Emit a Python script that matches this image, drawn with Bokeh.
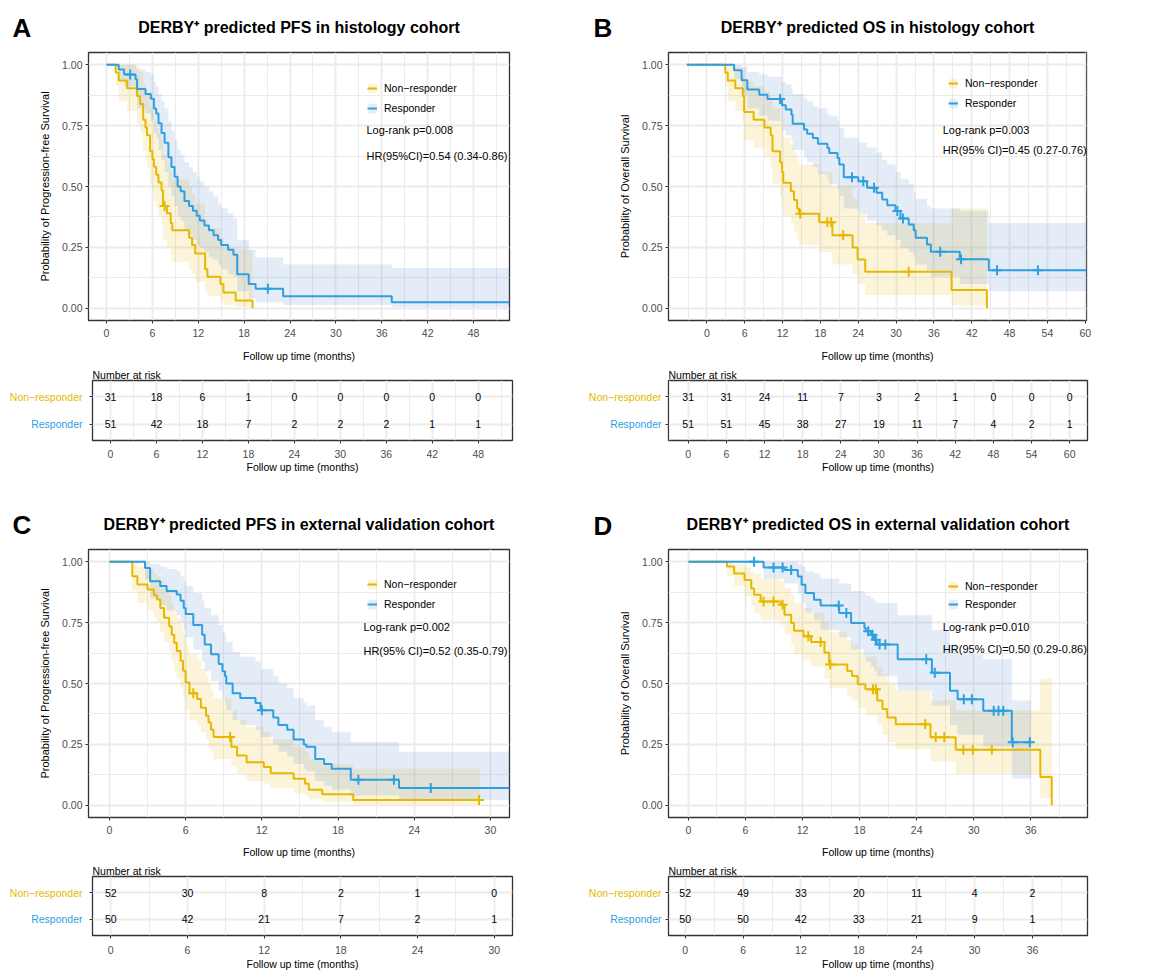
from bokeh.plotting import figure
from bokeh.models import FixedTicker, PrintfTickFormatter, Label, Legend, LegendItem, Range1d
from bokeh.layouts import column, row
from bokeh.embed import file_html
from bokeh.resources import INLINE
from bokeh.core.properties import value

FONT = "Liberation Sans"
YEL = "#E7B800"
BLU = "#2E9FDF"
YEL_BAND = "#E7B800"
BLU_BAND = "#4B80D0"
GRID = "#EBEBEB"
TICKLAB = "#4D4D4D"

# ================= DATA =================
# ---- Panel A : PFS, histology cohort ----
A_nr_time = [0, 1.2, 1.6, 2.7, 4.0, 4.4, 4.8, 5.1, 5.3, 5.7, 6.0, 6.2, 6.5, 6.8, 7.2, 7.4, 7.9, 8.4, 8.6, 10.8, 11.2, 11.6, 12.9, 13.2, 14.9, 15.3, 16.9, 19.1]
A_nr_surv = [1.0, 0.968, 0.935, 0.903, 0.871, 0.839, 0.774, 0.742, 0.710, 0.645, 0.613, 0.581, 0.548, 0.516, 0.484, 0.42, 0.39, 0.35, 0.32, 0.29, 0.26, 0.225, 0.16, 0.13, 0.10, 0.065, 0.032, 0.0]
A_nr_lower = [1.0, 0.91, 0.85, 0.81, 0.76, 0.72, 0.65, 0.61, 0.58, 0.51, 0.47, 0.44, 0.41, 0.38, 0.34, 0.28, 0.25, 0.22, 0.19, 0.16, 0.14, 0.11, 0.07, 0.05, 0.03, 0.015, 0.005, 0.0]
A_nr_upper = [1.0, 1.0, 1.0, 1.0, 0.99, 0.97, 0.92, 0.90, 0.88, 0.83, 0.80, 0.77, 0.74, 0.72, 0.69, 0.63, 0.60, 0.56, 0.53, 0.50, 0.47, 0.43, 0.37, 0.33, 0.29, 0.25, 0.24, 0.24]
A_nr_censor = [7.6]
A_nr_end = 19.1

A_r_time = [0, 1.6, 2.3, 3.8, 4.0, 5.1, 5.8, 6.2, 6.5, 6.8, 7.2, 7.6, 8.1, 8.5, 8.9, 9.3, 9.7, 10.2, 10.8, 11.3, 11.8, 12.2, 12.8, 13.4, 14.0, 14.6, 15.0, 15.9, 16.6, 17.1, 18.6, 19.5, 23.1, 37.3]
A_r_surv = [1.0, 0.98, 0.96, 0.94, 0.90, 0.88, 0.86, 0.82, 0.80, 0.76, 0.72, 0.68, 0.62, 0.58, 0.54, 0.50, 0.48, 0.44, 0.42, 0.40, 0.38, 0.36, 0.34, 0.32, 0.30, 0.28, 0.26, 0.24, 0.22, 0.14, 0.10, 0.08, 0.05, 0.025]
A_r_lower = [1.0, 0.94, 0.91, 0.88, 0.82, 0.80, 0.77, 0.72, 0.70, 0.65, 0.61, 0.56, 0.50, 0.46, 0.42, 0.38, 0.36, 0.32, 0.30, 0.28, 0.26, 0.25, 0.23, 0.21, 0.20, 0.18, 0.16, 0.14, 0.13, 0.07, 0.04, 0.025, 0.014, 0.004]
A_r_upper = [1.0, 1.0, 1.0, 0.99, 0.98, 0.97, 0.96, 0.93, 0.91, 0.88, 0.85, 0.82, 0.77, 0.73, 0.69, 0.65, 0.63, 0.60, 0.58, 0.56, 0.54, 0.52, 0.50, 0.48, 0.46, 0.43, 0.41, 0.39, 0.37, 0.28, 0.24, 0.21, 0.18, 0.165]
A_r_censor = [3.1, 21.1]
A_r_end = 52.7

A_ticks = [0, 6, 12, 18, 24, 30, 36, 42, 48]
A_risk_nr = [31, 18, 6, 1, 0, 0, 0, 0, 0]
A_risk_r = [51, 42, 18, 7, 2, 2, 2, 1, 1]

# ---- Panel B : OS, histology cohort ----
B_nr_time = [-3.2, 2.9, 3.3, 4.5, 5.7, 5.9, 7.4, 9.1, 10.1, 10.4, 11.6, 11.9, 12.1, 13.3, 13.8, 14.3, 14.6, 17.8, 19.9, 23.1, 23.9, 25.1, 38.8, 44.4]
B_nr_surv = [1.0, 0.968, 0.935, 0.903, 0.871, 0.806, 0.774, 0.742, 0.710, 0.645, 0.600, 0.560, 0.515, 0.480, 0.445, 0.41, 0.388, 0.353, 0.300, 0.250, 0.20, 0.150, 0.075, 0.0]
B_nr_lower = [1.0, 0.91, 0.85, 0.81, 0.76, 0.69, 0.66, 0.62, 0.58, 0.51, 0.46, 0.42, 0.38, 0.35, 0.31, 0.28, 0.26, 0.23, 0.18, 0.14, 0.10, 0.055, 0.012, 0.0]
B_nr_upper = [1.0, 1.0, 1.0, 0.99, 0.96, 0.93, 0.91, 0.89, 0.86, 0.82, 0.78, 0.74, 0.70, 0.67, 0.64, 0.61, 0.59, 0.56, 0.50, 0.45, 0.39, 0.35, 0.41, 0.41]
B_nr_censor = [14.8, 19.1, 19.7, 21.6, 32.0]
B_nr_end = 44.4

B_r_time = [-3.2, 4.3, 5.5, 6.4, 8.3, 9.6, 11.9, 12.5, 13.4, 13.6, 15.4, 15.9, 16.8, 17.6, 19.1, 19.4, 20.7, 21.0, 21.7, 24.0, 25.4, 26.9, 27.8, 28.6, 29.9, 30.7, 32.0, 32.8, 33.1, 34.9, 35.5, 40.1, 44.7]
B_r_surv = [1.0, 0.977, 0.936, 0.898, 0.877, 0.859, 0.833, 0.816, 0.795, 0.758, 0.734, 0.717, 0.699, 0.675, 0.658, 0.638, 0.617, 0.590, 0.538, 0.522, 0.495, 0.474, 0.447, 0.423, 0.399, 0.369, 0.344, 0.320, 0.290, 0.262, 0.232, 0.201, 0.156]
B_r_lower = [1.0, 0.94, 0.87, 0.82, 0.79, 0.77, 0.73, 0.71, 0.69, 0.65, 0.62, 0.60, 0.58, 0.55, 0.53, 0.51, 0.49, 0.46, 0.41, 0.39, 0.36, 0.34, 0.32, 0.30, 0.28, 0.25, 0.23, 0.21, 0.18, 0.155, 0.13, 0.10, 0.07]
B_r_upper = [1.0, 1.0, 0.99, 0.97, 0.96, 0.95, 0.93, 0.92, 0.90, 0.88, 0.86, 0.85, 0.83, 0.82, 0.80, 0.79, 0.77, 0.74, 0.70, 0.68, 0.66, 0.64, 0.61, 0.59, 0.56, 0.53, 0.51, 0.48, 0.45, 0.42, 0.41, 0.40, 0.35]
B_r_censor = [11.6, 23.0, 24.8, 26.5, 30.2, 31.1, 37.0, 40.3, 46.0, 52.5]
B_r_end = 60.2

B_ticks = [0, 6, 12, 18, 24, 30, 36, 42, 48, 54, 60]
B_risk_nr = [31, 31, 24, 11, 7, 3, 2, 1, 0, 0, 0]
B_risk_r = [51, 51, 45, 38, 27, 19, 11, 7, 4, 2, 1]

# ---- Panel C : PFS, external validation cohort ----
C_nr_time = [0, 1.8, 2.2, 3.0, 3.5, 3.75, 4.0, 4.3, 4.7, 4.9, 5.1, 5.3, 5.6, 5.8, 6.0, 6.3, 6.9, 7.2, 7.6, 7.8, 8.0, 8.2, 9.6, 10.05, 10.8, 12.15, 12.7, 14.5, 15.4, 15.7, 16.75, 19.2]
C_nr_surv = [1.0, 0.94, 0.906, 0.886, 0.862, 0.845, 0.81, 0.77, 0.735, 0.70, 0.667, 0.633, 0.593, 0.552, 0.504, 0.46, 0.436, 0.40, 0.368, 0.34, 0.31, 0.28, 0.24, 0.204, 0.177, 0.157, 0.132, 0.109, 0.089, 0.064, 0.045, 0.022]
C_nr_lower = [1.0, 0.88, 0.83, 0.80, 0.77, 0.75, 0.71, 0.67, 0.63, 0.59, 0.55, 0.52, 0.48, 0.44, 0.39, 0.35, 0.33, 0.30, 0.27, 0.24, 0.22, 0.19, 0.16, 0.13, 0.10, 0.09, 0.07, 0.05, 0.04, 0.025, 0.015, 0.004]
C_nr_upper = [1.0, 1.0, 0.98, 0.97, 0.95, 0.94, 0.92, 0.89, 0.86, 0.83, 0.80, 0.77, 0.74, 0.70, 0.66, 0.62, 0.60, 0.56, 0.53, 0.50, 0.47, 0.44, 0.39, 0.35, 0.32, 0.30, 0.27, 0.24, 0.22, 0.19, 0.17, 0.15]
C_nr_censor = [6.6, 9.5, 29.1]
C_nr_end = 29.2

C_r_time = [0, 2.8, 3.2, 4.0, 4.5, 5.3, 5.6, 5.85, 6.0, 6.6, 7.3, 7.5, 8.0, 8.6, 8.9, 9.1, 9.2, 9.7, 10.3, 11.5, 11.9, 12.9, 13.3, 14.0, 14.5, 15.3, 15.5, 16.2, 16.9, 17.5, 19.0, 22.8]
C_r_surv = [1.0, 0.974, 0.92, 0.90, 0.88, 0.865, 0.84, 0.81, 0.785, 0.74, 0.70, 0.66, 0.62, 0.58, 0.55, 0.53, 0.50, 0.46, 0.44, 0.42, 0.39, 0.36, 0.33, 0.31, 0.27, 0.25, 0.24, 0.19, 0.17, 0.15, 0.105, 0.071]
C_r_lower = [1.0, 0.93, 0.85, 0.82, 0.80, 0.78, 0.75, 0.72, 0.69, 0.64, 0.59, 0.55, 0.51, 0.47, 0.44, 0.42, 0.39, 0.35, 0.33, 0.31, 0.28, 0.25, 0.22, 0.20, 0.17, 0.15, 0.14, 0.10, 0.08, 0.065, 0.04, 0.022]
C_r_upper = [1.0, 1.0, 0.99, 0.98, 0.97, 0.96, 0.94, 0.92, 0.90, 0.87, 0.84, 0.81, 0.78, 0.74, 0.71, 0.70, 0.67, 0.63, 0.61, 0.59, 0.56, 0.53, 0.50, 0.48, 0.44, 0.42, 0.41, 0.35, 0.32, 0.30, 0.26, 0.22]
C_r_censor = [12.0, 19.6, 22.4, 25.3]
C_r_end = 31.5

C_ticks = [0, 6, 12, 18, 24, 30]
C_risk_nr = [52, 30, 8, 2, 1, 0]
C_risk_r = [50, 42, 21, 7, 2, 1]

# ---- Panel D : OS, external validation cohort ----
D_nr_time = [0, 4.05, 4.8, 5.9, 6.6, 6.9, 7.6, 9.7, 10.1, 10.8, 11.1, 12.1, 12.9, 14.3, 14.8, 16.7, 17.2, 17.8, 18.6, 19.85, 20.4, 20.9, 21.8, 25.45, 28.1, 37.0, 38.2]
D_nr_surv = [1.0, 0.98, 0.952, 0.925, 0.89, 0.864, 0.837, 0.823, 0.782, 0.748, 0.717, 0.694, 0.67, 0.626, 0.578, 0.551, 0.531, 0.497, 0.476, 0.43, 0.395, 0.36, 0.333, 0.279, 0.228, 0.116, 0.0]
D_nr_lower = [1.0, 0.94, 0.90, 0.86, 0.82, 0.79, 0.76, 0.74, 0.70, 0.66, 0.62, 0.60, 0.57, 0.52, 0.48, 0.45, 0.43, 0.40, 0.37, 0.33, 0.29, 0.26, 0.23, 0.18, 0.13, 0.03, 0.0]
D_nr_upper = [1.0, 1.0, 0.99, 0.98, 0.96, 0.95, 0.93, 0.92, 0.89, 0.86, 0.83, 0.81, 0.79, 0.75, 0.71, 0.68, 0.66, 0.63, 0.61, 0.57, 0.54, 0.50, 0.47, 0.43, 0.39, 0.52, 0.52]
D_nr_censor = [7.9, 8.95, 9.9, 12.6, 13.9, 14.9, 19.4, 19.7, 24.9, 26.0, 26.9, 28.9, 29.9, 31.9]
D_nr_end = 38.2

D_r_time = [0, 7.9, 10.1, 11.5, 11.9, 12.3, 13.2, 13.9, 15.85, 17.1, 18.5, 18.65, 19.2, 19.5, 19.8, 22.0, 25.6, 27.5, 28.3, 31.0, 34.0]
D_r_surv = [1.0, 0.976, 0.966, 0.939, 0.905, 0.871, 0.844, 0.82, 0.789, 0.748, 0.728, 0.714, 0.70, 0.68, 0.66, 0.60, 0.544, 0.47, 0.435, 0.388, 0.259]
D_r_lower = [1.0, 0.93, 0.91, 0.87, 0.83, 0.79, 0.76, 0.72, 0.69, 0.64, 0.61, 0.59, 0.57, 0.55, 0.53, 0.47, 0.41, 0.33, 0.29, 0.24, 0.11]
D_r_upper = [1.0, 1.0, 1.0, 0.99, 0.98, 0.96, 0.95, 0.93, 0.91, 0.88, 0.87, 0.86, 0.85, 0.84, 0.83, 0.78, 0.72, 0.66, 0.62, 0.60, 0.43]
D_r_censor = [6.9, 8.95, 9.9, 10.8, 15.8, 16.6, 18.9, 19.35, 19.7, 20.1, 20.7, 25.0, 25.9, 28.95, 29.8, 32.1, 32.6, 33.1, 34.1, 35.9]
D_r_end = 36.0

D_ticks = [0, 6, 12, 18, 24, 30, 36]
D_risk_nr = [52, 49, 33, 20, 11, 4, 2]
D_risk_r = [50, 50, 42, 33, 21, 9, 1]

Y_TICKS = [0, 0.25, 0.5, 0.75, 1.0]
Y_MINOR = [0.125, 0.375, 0.625, 0.875]
GROUPS = ["Non\u2212responder", "Responder"]


# ================= HELPERS =================
def stepify(t, v, end):
    xs, ys = [t[0]], [v[0]]
    for i in range(1, len(t)):
        xs += [t[i], t[i]]
        ys += [v[i - 1], v[i]]
    if end > t[-1]:
        xs.append(end)
        ys.append(v[-1])
    return xs, ys


def surv_at(t, s, c):
    out = s[0]
    for ti, si in zip(t, s):
        if ti <= c:
            out = si
    return out


def minor_of(ticks, lo, hi):
    step = ticks[1] - ticks[0]
    m = []
    x = ticks[0] - step / 2
    while x <= hi:
        if x >= lo:
            m.append(x)
        x += step
    return m


def blank_fig(w, h, yr, top=0, bottom=0, title=None):
    p = figure(width=w, height=h, x_range=Range1d(0, w), y_range=Range1d(*yr),
               x_axis_type=None, y_axis_type=None, output_backend="svg", toolbar_location=None,
               min_border_left=0, min_border_right=0, min_border_top=top, min_border_bottom=bottom,
               title=title)
    p.outline_line_color = None
    p.background_fill_color = "white"
    p.border_fill_color = "white"
    return p


def letter_fig(w, h, top, bottom, letter, lx, standoff):
    # the panel letter is drawn as this narrow figure's title, sitting in its top border
    p = blank_fig(w, h, (0, 1), top, bottom, title=letter)
    p.title.align = "left"
    p.title.offset = lx
    p.title.standoff = standoff
    p.title.text_font = FONT
    p.title.text_font_size = "26px"
    p.title.text_font_style = "bold"
    p.title.text_color = "black"
    return p


def rowlabel_fig(w, h, top, bottom, xr_right):
    p = blank_fig(w, h, (0.4, 2.6), top, bottom)
    p.text(x=[xr_right, xr_right], y=[2, 1], text=GROUPS, text_font=value(FONT),
           text_font_size="10.5px", text_align="right", text_baseline="middle",
           text_color=[YEL, BLU])
    return p


def base_style(p, xticks, xr, yticks, yminor, xlab_standoff, ylab_standoff, xlbl_standoff):
    p.outline_line_color = "#333333"
    p.outline_line_width = 1.3
    p.background_fill_color = "white"
    p.border_fill_color = "white"
    p.xaxis.ticker = FixedTicker(ticks=xticks, minor_ticks=minor_of(xticks, xr[0], xr[1]))
    p.yaxis.ticker = FixedTicker(ticks=yticks, minor_ticks=yminor)
    for ax in list(p.xaxis) + list(p.yaxis):
        ax.axis_line_color = None
        ax.major_tick_line_color = "#333333"
        ax.major_tick_out = 3
        ax.major_tick_in = 0
        ax.minor_tick_line_color = None
        ax.major_label_text_color = TICKLAB
        ax.major_label_text_font = FONT
        ax.major_label_text_font_size = "10.5px"
        ax.major_label_standoff = 2
        ax.axis_label_text_font = FONT
        ax.axis_label_text_font_size = "10.5px"
        ax.axis_label_text_font_style = "normal"
        ax.axis_label_text_color = "black"
    p.xaxis.major_label_standoff = xlbl_standoff
    p.xaxis.axis_label_standoff = xlab_standoff
    p.yaxis.axis_label_standoff = ylab_standoff
    p.xgrid.grid_line_color = GRID
    p.xgrid.grid_line_width = 1.8
    p.xgrid.minor_grid_line_color = GRID
    p.xgrid.minor_grid_line_width = 1.1
    p.ygrid.grid_line_color = GRID
    p.ygrid.grid_line_width = 1.8
    p.ygrid.minor_grid_line_color = GRID if yminor else None
    p.ygrid.minor_grid_line_width = 1.1


def km_panel(w, h, borders, xr, xticks, title, ylabel, nr, r, leg_loc, leg_sp,
             ann_x, ann_y, ann_txt, xlab_standoff):
    p = figure(width=w, height=h, x_range=Range1d(*xr), y_range=Range1d(-0.05, 1.05),
               output_backend="svg", toolbar_location=None, title=title,
               min_border_left=borders[0], min_border_right=borders[1],
               min_border_top=borders[2], min_border_bottom=borders[3])
    p.title.align = "center"
    p.title.text_font = FONT
    p.title.text_font_size = "16px"
    p.title.text_font_style = "bold"
    p.title.text_color = "black"
    p.title.standoff = 33
    base_style(p, xticks, xr, Y_TICKS, Y_MINOR, xlab_standoff, 8, 4)
    p.yaxis.formatter = PrintfTickFormatter(format="%.2f")
    p.xaxis.axis_label = "Follow up time (months)"
    p.yaxis.axis_label = ylabel
    p.yaxis.axis_label_text_font_size = "11px"

    groups = [(nr, YEL, YEL_BAND), (r, BLU, BLU_BAND)]
    ribs = []
    for (t, s, lo, hi, end, cens), color, band in groups:
        xs, _ = stepify(t, s, end)
        _, ylo = stepify(t, lo, end)
        _, yhi = stepify(t, hi, end)
        ribs.append(p.varea(x=xs, y1=ylo, y2=yhi, fill_color=band, fill_alpha=0.15))
    lines = []
    for (t, s, lo, hi, end, cens), color, band in groups:
        xs, ys = stepify(t, s, end)
        lines.append(p.line(xs, ys, line_color=color, line_width=2))
        cy = [surv_at(t, s, c) for c in cens]
        p.scatter(cens, cy, marker="cross", size=10, line_color=color, line_width=2)

    leg = Legend(items=[LegendItem(label=GROUPS[0], renderers=[ribs[0], lines[0]]),
                        LegendItem(label=GROUPS[1], renderers=[ribs[1], lines[1]])],
                 location=leg_loc, orientation="vertical", background_fill_alpha=0,
                 border_line_alpha=0, padding=0, margin=0, spacing=leg_sp,
                 glyph_width=10, glyph_height=12, label_height=12, label_standoff=7,
                 label_text_font=FONT, label_text_font_size="10.5px", label_text_color="black")
    p.add_layout(leg)
    for txt, yy in zip(ann_txt, ann_y):
        p.add_layout(Label(x=ann_x, y=yy, text=txt, text_font=FONT, text_font_size="11px",
                           text_baseline="middle", text_align="left", text_color="black"))
    return p


def risk_panel(w, h, borders, xr, xticks, nr_counts, r_counts, xlbl_standoff, xlab_standoff):
    p = figure(width=w, height=h, x_range=Range1d(*xr), y_range=Range1d(0.4, 2.6),
               output_backend="svg", toolbar_location=None, title="Number at risk",
               min_border_left=borders[0], min_border_right=borders[1],
               min_border_top=borders[2], min_border_bottom=borders[3])
    p.title.align = "left"
    p.title.text_font = FONT
    p.title.text_font_size = "10.5px"
    p.title.text_font_style = "normal"
    p.title.text_color = "black"
    p.title.standoff = 0
    base_style(p, xticks, xr, [1, 2], [], xlab_standoff, 0, xlbl_standoff)
    p.yaxis.major_label_overrides = {1: "", 2: ""}
    p.yaxis.major_label_standoff = 0
    p.xaxis.axis_label = "Follow up time (months)"
    p.text(x=xticks, y=[2] * len(xticks), text=[str(v) for v in nr_counts],
           text_font=value(FONT), text_font_size="10.5px", text_align="center",
           text_baseline="middle", text_color="black")
    p.text(x=xticks, y=[1] * len(xticks), text=[str(v) for v in r_counts],
           text_font=value(FONT), text_font_size="10.5px", text_align="center",
           text_baseline="middle", text_color="black")
    return p


# ================= PANELS =================
# left column (x 0..580)
letA = letter_fig(36, 365, 52, 45, "A", 12, 20)
kmA = km_panel(544, 365, (52, 71, 52, 45), (-2.35, 52.7), A_ticks,
               "DERBY\u207a predicted PFS in histology cohort",
               "Probability of Progression-free Survival",
               (A_nr_time, A_nr_surv, A_nr_lower, A_nr_upper, A_nr_end, A_nr_censor),
               (A_r_time, A_r_surv, A_r_lower, A_r_upper, A_r_end, A_r_censor),
               (279, 206), 8, 34.0, (0.730, 0.627),
               ("Log-rank p=0.008", "HR(95%CI)=0.54 (0.34-0.86)"), 10)
labA = rowlabel_fig(84, 112, 15, 37, 82)
riskA = risk_panel(496, 112, (8, 68, 15, 37), (-2.35, 52.47), A_ticks, A_risk_nr, A_risk_r, 5, 0)

letC = letter_fig(36, 384, 72, 44, "C", 12, 19)
kmC = km_panel(544, 384, (52, 71, 72, 44), (-1.65, 31.5), C_ticks,
               "DERBY\u207a predicted PFS in external validation cohort",
               "Probability of Progression-free Survival",
               (C_nr_time, C_nr_surv, C_nr_lower, C_nr_upper, C_nr_end, C_nr_censor),
               (C_r_time, C_r_surv, C_r_lower, C_r_upper, C_r_end, C_r_censor),
               (279, 207), 8, 20.0, (0.730, 0.635),
               ("Log-rank p=0.002", "HR(95% CI)=0.52 (0.35-0.79)"), 9)
labC = rowlabel_fig(84, 111, 15, 36, 82)
riskC = risk_panel(496, 111, (8, 68, 15, 36), (-1.43, 31.43), C_ticks, C_risk_nr, C_risk_r, 6, 1)

# right column (x 580..1161)
letB = letter_fig(36, 365, 52, 45, "B", 13, 20)
kmB = km_panel(545, 365, (51, 75, 52, 45), (-6.1, 60.2), B_ticks,
               "DERBY\u207a predicted OS in histology cohort",
               "Probability of Overall Survival",
               (B_nr_time, B_nr_surv, B_nr_lower, B_nr_upper, B_nr_end, B_nr_censor),
               (B_r_time, B_r_surv, B_r_lower, B_r_upper, B_r_end, B_r_censor),
               (280, 211), 8, 37.4, (0.730, 0.648),
               ("Log-rank p=0.003", "HR(95% CI)=0.45 (0.27-0.76)"), 10)
labB = rowlabel_fig(83, 112, 15, 37, 81)
riskB = risk_panel(498, 112, (5, 74, 15, 37), (-3.1, 62.8), B_ticks, B_risk_nr, B_risk_r, 5, 0)

letD = letter_fig(36, 384, 72, 44, "D", 13, 18)
kmD = km_panel(545, 384, (51, 74, 72, 44), (-2.1, 41.96), D_ticks,
               "DERBY\u207a predicted OS in external validation cohort",
               "Probability of Overall Survival",
               (D_nr_time, D_nr_surv, D_nr_lower, D_nr_upper, D_nr_end, D_nr_censor),
               (D_r_time, D_r_surv, D_r_lower, D_r_upper, D_r_end, D_r_censor),
               (280, 207), 6, 26.75, (0.730, 0.640),
               ("Log-rank p=0.010", "HR(95% CI)=0.50 (0.29-0.86)"), 9)
labD = rowlabel_fig(83, 111, 15, 36, 81)
riskD = risk_panel(498, 111, (5, 74, 15, 36), (-1.73, 41.7), D_ticks, D_risk_nr, D_risk_r, 6, 1)

left = column(row(letA, kmA), row(labA, riskA), row(letC, kmC), row(labC, riskC))
right = column(row(letB, kmB), row(labB, riskB), row(letD, kmD), row(labD, riskD))
layout = row(left, right)

open("out.html", "w").write(file_html(layout, INLINE))
